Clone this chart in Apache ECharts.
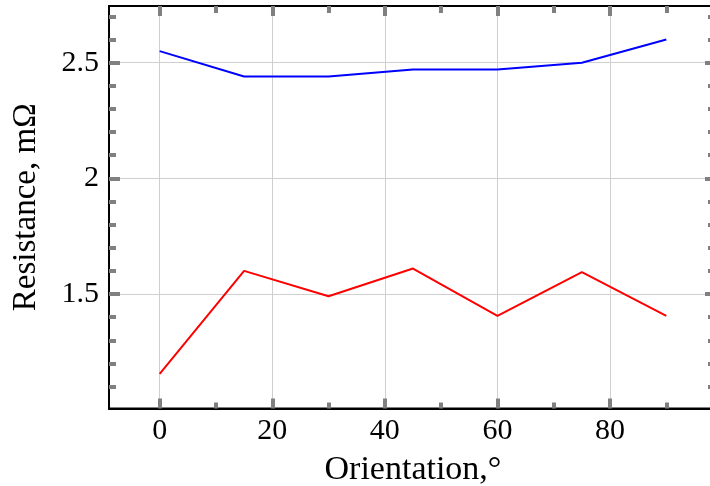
<!DOCTYPE html>
<html>
<head>
<meta charset="utf-8">
<script src="https://cdn.jsdelivr.net/npm/echarts@6/dist/echarts.min.js"></script>
<style>
  html, body { margin: 0; padding: 0; background: #fff; }
  #chart { width: 710px; height: 486px; }
</style>
</head>
<body>
<div id="chart"></div>
<script>
// Measured resistance versus orientation angle
const orientation = [0, 15, 30, 45, 60, 75, 90];
const resistanceBlue = [2.55, 2.44, 2.44, 2.47, 2.47, 2.50, 2.60];
const resistanceRed = [1.155, 1.60, 1.49, 1.61, 1.405, 1.595, 1.405];

// Tick positions
const xMajorTicks = [0, 20, 40, 60, 80];
const xMinorTicks = [10, 30, 50, 70, 90];
const yMajorTicks = [1.5, 2, 2.5];
const yMinorTicks = [1.1, 1.2, 1.3, 1.4, 1.6, 1.7, 1.8, 1.9, 2.1, 2.2, 2.3, 2.4, 2.6, 2.7];

const xRange = [-9, 99];
const yRange = [1.005, 2.745];

const FONT = 'Liberation Serif';
const TICK_COLOR = '#808080';
const GRID_BOX = { left: 109, top: 6, right: -7, bottom: 77.5, containLabel: false, outerBoundsMode: 'none' };

function pairs(xs, ys) {
  return xs.map((x, i) => [x, ys[i]]);
}

const hiddenLine = { show: false, onZero: false };

function xAxisDef(gridIndex, position, ticks, len, opts) {
  return Object.assign({
    type: 'value', gridIndex, position,
    min: xRange[0], max: xRange[1],
    axisLine: hiddenLine,
    axisTick: { show: true, inside: true, length: len, customValues: ticks,
                lineStyle: { color: TICK_COLOR, width: 4 } },
    axisLabel: { show: false },
    splitLine: { show: false }
  }, opts || {});
}

function yAxisDef(gridIndex, position, ticks, len, opts) {
  return Object.assign({
    type: 'value', gridIndex, position,
    min: yRange[0], max: yRange[1],
    axisLine: hiddenLine,
    axisTick: { show: true, inside: true, length: len, customValues: ticks,
                lineStyle: { color: TICK_COLOR, width: 4 } },
    axisLabel: { show: false },
    splitLine: { show: false }
  }, opts || {});
}

const frameLine = { show: true, onZero: false, lineStyle: { color: '#000', width: 2 } };
const gridLine = { show: true, lineStyle: { color: '#cfcfcf', width: 1 } };
const labelStyle = { fontFamily: FONT, fontSize: 30, color: '#000' };
const nameStyle = { fontFamily: FONT, fontSize: 33, color: '#000' };

const chart = echarts.init(document.getElementById('chart'), null, { renderer: 'canvas' });

chart.setOption({
  animation: false,
  backgroundColor: '#fff',
  grid: [
    // plot frame drawn by the grid border
    Object.assign({ show: true, borderColor: '#000', borderWidth: 2, backgroundColor: 'transparent' }, GRID_BOX),
    Object.assign({}, GRID_BOX)
  ],
  xAxis: [
    xAxisDef(0, 'bottom', xMajorTicks, 10, {
      axisLine: frameLine,
      axisLabel: Object.assign({ show: true, margin: 8, customValues: xMajorTicks }, labelStyle),
      splitLine: gridLine,
      name: 'Orientation,°',
      nameLocation: 'middle',
      nameGap: 45,
      nameTextStyle: Object.assign({}, nameStyle, { fontSize: 34 })
    }),
    xAxisDef(0, 'top', xMajorTicks, 10, { axisLine: frameLine }),
    xAxisDef(1, 'bottom', xMinorTicks, 6),
    xAxisDef(1, 'top', xMinorTicks, 7)
  ],
  yAxis: [
    yAxisDef(0, 'left', yMajorTicks, 11, {
      axisLine: frameLine,
      axisLabel: Object.assign({ show: true, margin: 10, customValues: yMajorTicks }, labelStyle),
      splitLine: gridLine,
      name: 'Resistance, mΩ',
      nameLocation: 'middle',
      nameGap: 66,
      nameTextStyle: nameStyle
    }),
    yAxisDef(0, 'right', yMajorTicks, 12, { axisLine: frameLine }),
    yAxisDef(1, 'left', yMinorTicks, 7),
    yAxisDef(1, 'right', yMinorTicks, 9)
  ],
  series: [
    {
      type: 'line', xAxisIndex: 0, yAxisIndex: 0,
      data: pairs(orientation, resistanceBlue),
      showSymbol: false, symbol: 'none',
      lineStyle: { color: '#0000ff', width: 2 },
      itemStyle: { color: '#0000ff' },
      z: 5
    },
    {
      type: 'line', xAxisIndex: 0, yAxisIndex: 0,
      data: pairs(orientation, resistanceRed),
      showSymbol: false, symbol: 'none',
      lineStyle: { color: '#ff0000', width: 2 },
      itemStyle: { color: '#ff0000' },
      z: 5
    }
  ]
});
</script>
</body>
</html>
